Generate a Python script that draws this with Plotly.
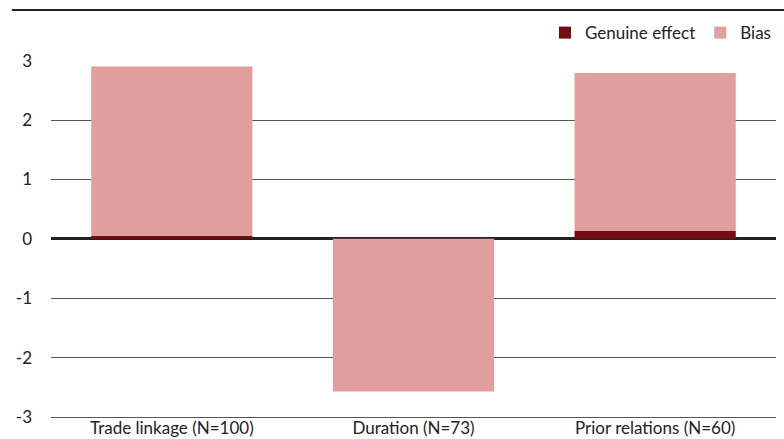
import plotly.graph_objects as go

categories = ["Trade linkage (N=100)", "Duration (N=73)", "Prior relations (N=60)"]
genuine = [0.05, 0.0, 0.13]
bias = [2.85, -2.57, 2.66]
ytick_vals = [-3, -2, -1, 0, 1, 2, 3]
ytick_text = ["-3", "-2", "-1", "0", "1", "2", "3"]

FONT = "Source Sans Pro, Lato, Noto Sans, sans-serif"

fig = go.Figure()
fig.add_trace(go.Bar(x=categories, y=genuine, name="Genuine effect",
                     marker=dict(color="#720D12", line=dict(width=0))))
fig.add_trace(go.Bar(x=categories, y=bias, name="Bias",
                     marker=dict(color="#E09F9E", line=dict(width=0))))

fig.update_layout(
    width=784, height=439,
    barmode="relative",
    bargap=0.333,
    plot_bgcolor="white", paper_bgcolor="white",
    margin=dict(l=51, r=8, t=60, b=22, autoexpand=False),
    font=dict(family=FONT, size=17, color="#222"),
    showlegend=True,
    legend=dict(orientation="h", x=1.0, xanchor="right", y=1.025, yanchor="bottom",
                font=dict(size=17, color="#222"),
                traceorder="normal", bgcolor="rgba(0,0,0,0)"),
    xaxis=dict(showgrid=False, showline=True, linecolor="#555", linewidth=1,
               ticks="", tickfont=dict(size=17), ticklabelstandoff=-4),
    yaxis=dict(range=[-3, 3.01], tickvals=ytick_vals, ticktext=ytick_text,
               showgrid=True, gridcolor="#555", gridwidth=1, zeroline=True,
               zerolinecolor="#222", zerolinewidth=2.5, showline=False, ticks="",
               ticklabelstandoff=18, tickfont=dict(size=17)),
)

fig.add_shape(type="line", xref="paper", yref="paper", x0=-0.054, x1=1.02,
              y0=1.14, y1=1.14, line=dict(color="#222", width=2))

fig.write_html("out.html",
               config={"displayModeBar": False},
               post_script="document.body.style.margin='0';document.body.style.overflow='hidden';")
